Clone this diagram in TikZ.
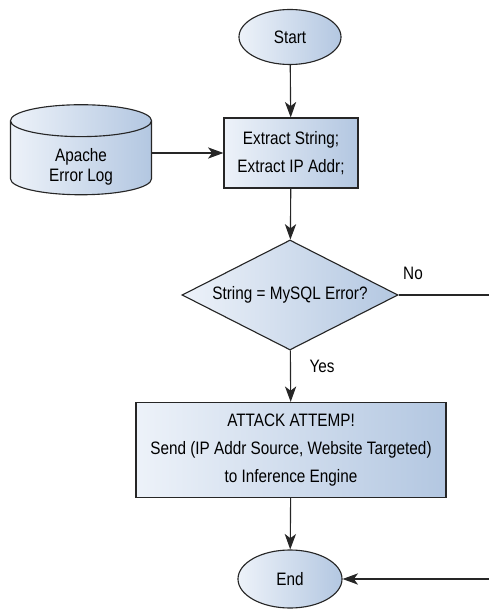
\documentclass[tikz,border=0pt]{standalone}
\usepackage{fontspec}
\setmainfont{Liberation Sans}[FakeStretch=0.85]
\usetikzlibrary{shapes.geometric,arrows.meta}
\definecolor{fillLight}{HTML}{EDF2F9}
\definecolor{fillDark}{HTML}{B3C7E1}
\definecolor{edge}{rgb}{0.15,0.15,0.15}

\tikzset{
  box/.style={draw=edge, line width=0.8pt, left color=fillLight, right color=fillDark,
    align=center, font=\fontsize{12.8}{20}\selectfont},
  terminal/.style={box, ellipse, inner sep=0pt},
  process/.style={box, rectangle, inner sep=0pt},
  decision/.style={box, diamond, aspect=2, inner sep=0pt},
  store/.style={box, cylinder, shape border rotate=90, aspect=0.5, inner sep=0pt},
  flow/.style={draw=edge, line width=0.8pt, -{Stealth[length=11pt,width=8pt,inset=3pt]}},
  label/.style={font=\fontsize{12.8}{15}\selectfont}
}

\begin{document}
\begin{tikzpicture}[x=0.025cm, y=-0.025cm]
\useasboundingbox (0,0) rectangle (488,609);

\node[terminal, minimum width=2.55cm, minimum height=1.375cm] (start) at (290,37) {Start};
\node[process, minimum width=3.35cm, minimum height=1.75cm] (extract) at (291,153) {Extract String;\\Extract IP Addr;};
% text sits low in the body, below the top cap
\node[store, minimum width=3.525cm, minimum height=2.25cm] (log) at (81,158)
  {\raisebox{-9.5pt}[0pt][0pt]{\fontsize{12.8}{14.5}\selectfont\begin{tabular}{@{}c@{}}Apache\\Error Log\end{tabular}}};
\node[decision, minimum width=5.4cm, minimum height=2.75cm] (test) at (290,295) {String = MySQL Error?};
\node[process, minimum width=7.75cm, minimum height=2.375cm] (attack) at (291,450) {ATTACK ATTEMP!\\Send (IP Addr Source, Website Targeted)\\to Inference Engine};
\node[terminal, minimum width=2.6cm, minimum height=1.45cm] (end) at (290,579) {End};

\coordinate (rim) at (491,295);

\node[label] (no) at (413,273) {No};
\node[label] (yes) at (322,366) {Yes};

\draw[flow] (start) -- (extract);
\draw[flow] (log.east |- extract) -- (extract);
\draw[flow] (extract) -- (test);
\draw[flow] (test) -- (attack);
\draw[flow] (attack) -- (end);
\draw[flow] (test) -- (rim) |- (end);
\end{tikzpicture}
\end{document}
